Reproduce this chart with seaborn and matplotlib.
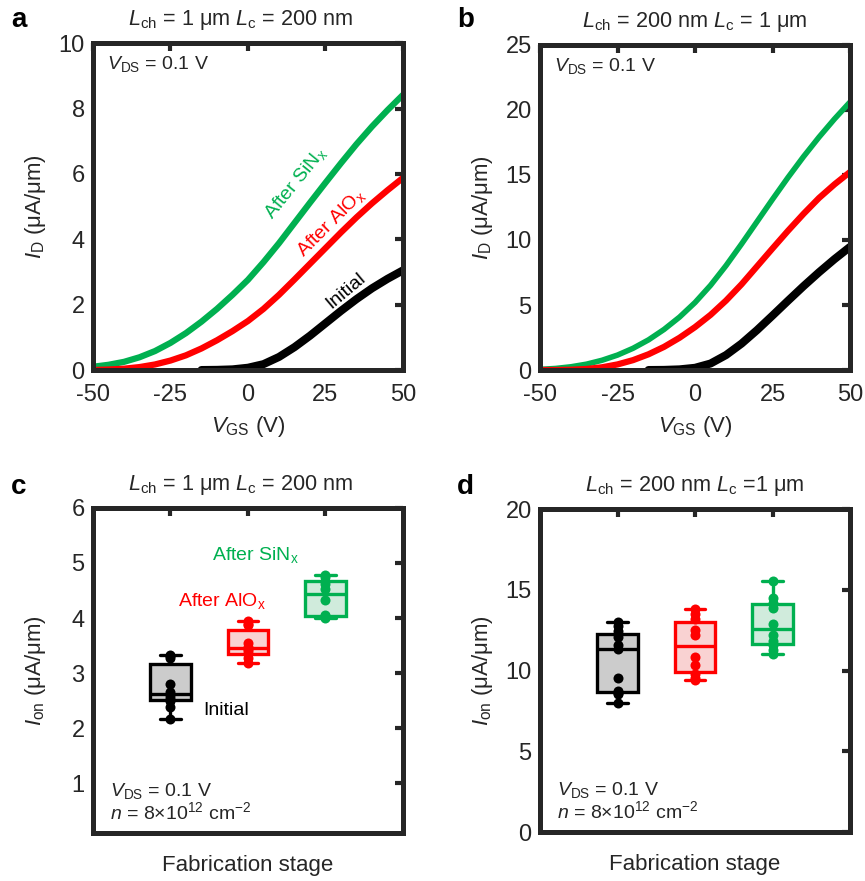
import numpy as np
import pandas as pd
import matplotlib
matplotlib.use("Agg")
import matplotlib.pyplot as plt
import seaborn as sns

# ---------------- transfer curves (I_D vs V_GS) ----------------
vgs = [-50, -45, -40, -35, -30, -25, -20, -15, -10, -5, 0,
       5, 10, 15, 20, 25, 30, 35, 40, 45, 50]
vgs_init = [-15, -10, -5, 0, 5, 10, 15, 20, 25, 30, 35, 40, 45, 50]

# L_ch = 1 um, L_c = 200 nm
a_sinx = [0.10, 0.16, 0.25, 0.39, 0.58, 0.83, 1.13, 1.48, 1.87, 2.30, 2.76,
          3.30, 3.88, 4.50, 5.12, 5.73, 6.33, 6.91, 7.45, 7.95, 8.42]
a_alox = [0.00, 0.015, 0.04, 0.09, 0.17, 0.29, 0.45, 0.66, 0.91, 1.19, 1.50,
          1.87, 2.30, 2.77, 3.25, 3.73, 4.21, 4.67, 5.10, 5.50, 5.88]
a_init = [0.00, 0.005, 0.02, 0.07, 0.18, 0.40, 0.70, 1.05, 1.43, 1.81,
          2.17, 2.50, 2.79, 3.05]

# L_ch = 200 nm, L_c = 1 um
b_sinx = [0.05, 0.12, 0.25, 0.45, 0.75, 1.15, 1.67, 2.32, 3.12, 4.07, 5.19,
          6.51, 8.03, 9.69, 11.41, 13.13, 14.81, 16.41, 17.91, 19.31, 20.61]
b_alox = [0.00, 0.00, 0.02, 0.08, 0.21, 0.43, 0.76, 1.21, 1.78, 2.48, 3.30,
          4.24, 5.34, 6.59, 7.97, 9.35, 10.71, 12.01, 13.23, 14.28, 15.23]
b_init = [0.00, 0.01, 0.05, 0.17, 0.50, 1.15, 2.03, 3.07, 4.19, 5.33,
          6.45, 7.52, 8.53, 9.47]

# ---------------- on-current statistics ----------------
stages = ["Initial", "After AlOx", "After SiNx"]
c_initial = [2.17, 2.38, 2.50, 2.55, 2.60, 2.66, 2.80, 3.28, 3.31, 3.33]
c_alox = [3.18, 3.28, 3.34, 3.40, 3.44, 3.48, 3.55, 3.87, 3.90, 3.95]
c_sinx = [4.01, 4.02, 4.03, 4.06, 4.33, 4.53, 4.62, 4.68, 4.74, 4.79]

d_initial = [8.00, 8.55, 8.62, 8.76, 9.52, 11.31, 11.60, 12.10, 12.42, 12.75, 13.00]
d_alox = [9.41, 9.55, 9.80, 10.34, 10.86, 12.20, 12.50, 13.20, 13.50, 13.79]
d_sinx = [11.02, 11.30, 11.60, 11.80, 12.20, 12.90, 13.85, 14.20, 14.47, 15.56]

line_colors = ["#000000", "#ff0000", "#00b050"]
fill_colors = ["#cccccc", "#ffcccc", "#ccefdc"]
ink = "#262626"

sns.set_style("white")
plt.rcParams["font.family"] = ["Liberation Sans", "DejaVu Sans"]
plt.rcParams["mathtext.fontset"] = "custom"
plt.rcParams["mathtext.rm"] = "Liberation Sans"
plt.rcParams["mathtext.it"] = "Liberation Sans:italic"
plt.rcParams["mathtext.bf"] = "Liberation Sans:bold"
plt.rcParams["axes.unicode_minus"] = False

fig = plt.figure(figsize=(8.65, 8.81), dpi=100)
ax_a = fig.add_axes([0.1075, 0.580, 0.3584, 0.371])
ax_b = fig.add_axes([0.6243, 0.580, 0.3584, 0.369])
ax_c = fig.add_axes([0.1075, 0.0545, 0.3584, 0.369])
ax_d = fig.add_axes([0.6243, 0.0556, 0.3584, 0.3666])

TICK_FS = 17
LABEL_FS = 16
TITLE_FS = 15.6


def frame(ax):
    for sp in ax.spines.values():
        sp.set_linewidth(3.6)
        sp.set_color(ink)
        sp.set_visible(True)
    ax.tick_params(direction="in", length=6, width=3, colors=ink,
                   top=True, right=True, labelsize=TICK_FS)
    ax.tick_params(axis="x", pad=10)
    ax.tick_params(axis="y", pad=6)
    ax.set_facecolor("white")
    ax.yaxis.set_label_coords(-0.145, 0.5)


def transfer(ax, sinx, alox, init, ymax, yticks, widths):
    sns.lineplot(x=vgs, y=sinx, color=line_colors[2], lw=widths[0], ax=ax)
    sns.lineplot(x=vgs, y=alox, color=line_colors[1], lw=widths[1], ax=ax)
    sns.lineplot(x=vgs_init, y=init, color=line_colors[0], lw=widths[2], ax=ax)
    ax.set_xlim(-50, 50)
    ax.set_ylim(0, ymax)
    ax.set_xticks([-50, -25, 0, 25, 50])
    ax.set_yticks(yticks)
    ax.set_xlabel(r"$V_{\mathrm{GS}}$ (V)", fontsize=LABEL_FS, color=ink, labelpad=6)
    ax.set_ylabel(r"$I_{\mathrm{D}}$ (μA/μm)", fontsize=LABEL_FS, color=ink)
    ax.text(0.045, 0.935, r"$V_{\mathrm{DS}}$ = 0.1 V", transform=ax.transAxes,
            fontsize=14, color=ink, va="center", ha="left")
    frame(ax)


transfer(ax_a, a_sinx, a_alox, a_init, 10, [0, 2, 4, 6, 8, 10], (4.5, 4.5, 5.8))
transfer(ax_b, b_sinx, b_alox, b_init, 25, [0, 5, 10, 15, 20, 25], (4.0, 4.5, 5.8))

ax_a.text(15.5, 5.72, r"After SiN$_\mathrm{x}$", color=line_colors[2], fontsize=14,
          rotation=51, ha="center", va="center", rotation_mode="anchor")
ax_a.text(26.8, 4.5, r"After AlO$_\mathrm{x}$", color=line_colors[1], fontsize=14,
          rotation=45, ha="center", va="center", rotation_mode="anchor")
ax_a.text(31.6, 2.42, "Initial", color="#000000", fontsize=14,
          rotation=40, ha="center", va="center", rotation_mode="anchor")


def ion_panel(ax, groups, ylim, yticks, note_y):
    df = pd.DataFrame({
        "stage": np.repeat(stages, [len(g) for g in groups]),
        "ion": np.concatenate(groups),
    })
    for stage, lc, fc in zip(stages, line_colors, fill_colors):
        sub = df[df["stage"] == stage]
        sns.boxplot(data=sub, x="stage", y="ion", order=stages, width=0.52,
                    color=fc, linecolor=lc, linewidth=2.4, showfliers=False,
                    ax=ax)
        sns.stripplot(data=sub, x="stage", y="ion", order=stages, jitter=False,
                      color=lc, size=7.2, ax=ax, zorder=4)
    ax.set_xlim(-1, 3)
    ax.set_ylim(*ylim)
    ax.set_xticks([0, 1, 2])
    ax.set_xticklabels([])
    ax.set_yticks(yticks)
    ax.set_xlabel("Fabrication stage", fontsize=LABEL_FS, color=ink, labelpad=6)
    ax.set_ylabel(r"$I_{\mathrm{on}}$ (μA/μm)", fontsize=LABEL_FS, color=ink)
    ax.text(0.055, note_y[0], r"$V_{\mathrm{DS}}$ = 0.1 V", transform=ax.transAxes,
            fontsize=14, color=ink, va="center", ha="left")
    ax.text(0.055, note_y[1], r"$n$ = 8×10$^{12}$ cm$^{-2}$", transform=ax.transAxes,
            fontsize=14, color=ink, va="center", ha="left")
    frame(ax)


ion_panel(ax_c, [c_initial, c_alox, c_sinx], (0.1, 6), [1, 2, 3, 4, 5, 6], (0.13, 0.065))
ion_panel(ax_d, [d_initial, d_alox, d_sinx], (0, 20), [0, 5, 10, 15, 20], (0.13, 0.065))

ax_c.text(1.10, 5.14, r"After SiN$_\mathrm{x}$", color=line_colors[2], fontsize=14,
          ha="center", va="center")
ax_c.text(0.665, 4.31, r"After AlO$_\mathrm{x}$", color=line_colors[1], fontsize=14,
          ha="center", va="center")
ax_c.text(0.72, 2.32, "Initial", color="#000000", fontsize=14,
          ha="center", va="center")

# panel titles
ax_a.set_title(r"$L_{\mathrm{ch}}$ = 1 μm $L_{\mathrm{c}}$ = 200 nm", fontsize=TITLE_FS,
               color=ink, pad=13, x=0.475)
ax_b.set_title(r"$L_{\mathrm{ch}}$ = 200 nm $L_{\mathrm{c}}$ = 1 μm", fontsize=TITLE_FS,
               color=ink, pad=13, x=0.5)
ax_c.set_title(r"$L_{\mathrm{ch}}$ = 1 μm $L_{\mathrm{c}}$ = 200 nm", fontsize=TITLE_FS,
               color=ink, pad=13, x=0.475)
ax_d.set_title(r"$L_{\mathrm{ch}}$ = 200 nm $L_{\mathrm{c}}$ =1 μm", fontsize=TITLE_FS,
               color=ink, pad=13, x=0.5)

# panel letters
for letter, x, y in [("a", 0.022, 0.977), ("b", 0.538, 0.977),
                     ("c", 0.022, 0.447), ("d", 0.538, 0.447)]:
    fig.text(x, y, letter, fontsize=20, fontweight="bold", color="#000000",
             ha="center", va="center")

fig.savefig("out.png", dpi=100, facecolor="white")
